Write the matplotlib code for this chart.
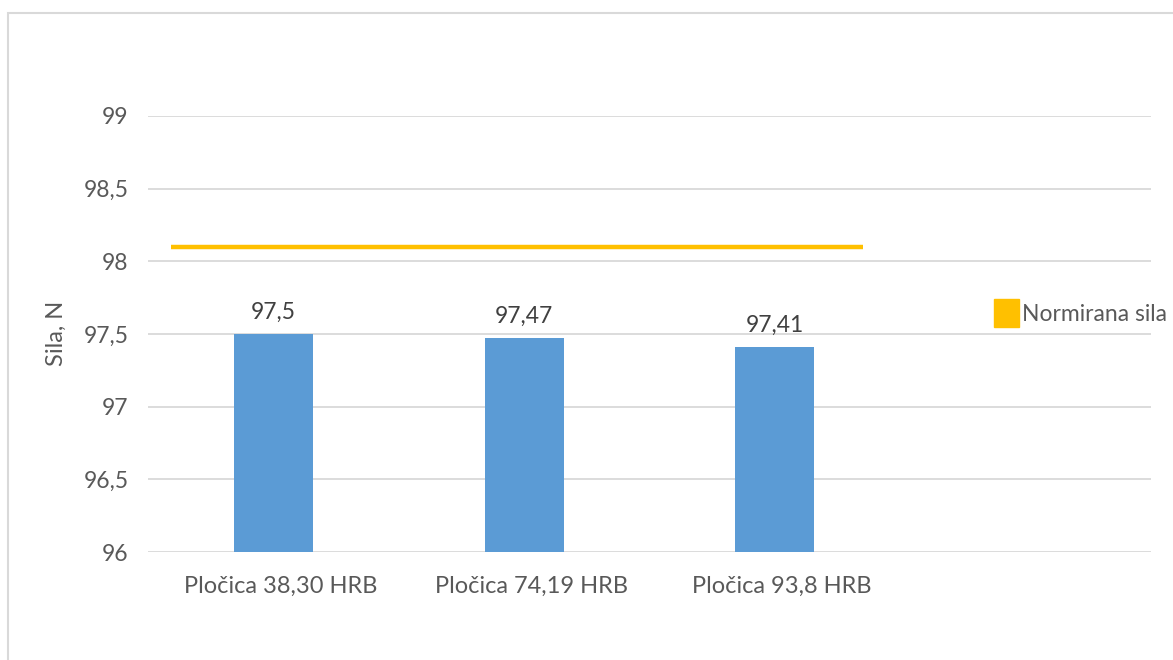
import numpy as np
import matplotlib.pyplot as plt
import matplotlib.transforms as mtransforms
from matplotlib.patches import Patch, Rectangle

# Data
categories = ['Pločica 38,30 HRB', 'Pločica 74,19 HRB', 'Pločica 93,8 HRB']
sila = [97.5, 97.47, 97.41]
bar_labels = ['97,5', '97,47', '97,41']
norm_sila = 98.1
norm_span = [-0.41, 2.35]   # horizontal extent of the reference line (category units)
y_ticks = [96, 96.5, 97, 97.5, 98, 98.5, 99]
y_tick_labels = ['96', '96,5', '97', '97,5', '98', '98,5', '99']

bar_color = '#5B9BD5'
line_color = '#FFC000'
grid_color = '#D9D9D9'
text_color = '#595959'
fs = 16.5

plt.rcParams['font.family'] = ['Lato', 'DejaVu Sans']

W, H = 1173, 660
fig = plt.figure(figsize=(W / 100, H / 100), dpi=100)
ax = fig.add_axes([148 / W, 1 - 552 / H, (1151 - 148) / W, (552 - 116) / H])

x = np.arange(len(categories))
ax.bar(x, sila, width=0.315, color=bar_color, zorder=2)
for xi, v, lab in zip(x, sila, bar_labels):
    ax.text(xi, v + 0.08, lab, ha='center', va='bottom', fontsize=fs, color='#404040')

ax.plot(norm_span, [norm_sila, norm_sila], color=line_color, linewidth=3.2,
        solid_capstyle='butt', zorder=3)

ax.set_xlim(-0.5, 3.5)
ax.set_ylim(96, 99)
ax.set_yticks(y_ticks)
ax.set_yticklabels(y_tick_labels, fontsize=fs, color=text_color)
ax.set_xticks(x)
ax.set_xticklabels(categories, fontsize=17, color=text_color)
ax.tick_params(axis='y', length=0, pad=14)
ax.tick_params(axis='x', length=0, pad=17)
# category labels sit a little to the right of the bar centres
shift = mtransforms.ScaledTranslation(7 / 100, 0, fig.dpi_scale_trans)
for lbl in ax.get_xticklabels():
    lbl.set_transform(lbl.get_transform() + shift)
ax.grid(axis='y', color=grid_color, linewidth=1.3, zorder=0)
for s in ax.spines.values():
    s.set_visible(False)

fig.text(56 / W, 1 - 333 / H, 'Sila, N', rotation=90, ha='center', va='center',
         fontsize=17, color=text_color)

fig.legend(handles=[Patch(color=line_color, label='Normirana sila')],
           loc='center left', bbox_to_anchor=(994 / W, 1 - 313 / H),
           frameon=False, fontsize=fs, labelcolor=text_color,
           handlelength=1.1, handleheight=1.5, handletextpad=0.1,
           borderaxespad=0, borderpad=0)

# chart border (only top and left are visible in the crop)
fig.patches.append(Rectangle((8 / W, -0.1), 1.2, 1 - 13 / H + 0.1,
                             transform=fig.transFigure, fill=False,
                             edgecolor=grid_color, linewidth=1.5))

fig.savefig('out.png', dpi=100)
